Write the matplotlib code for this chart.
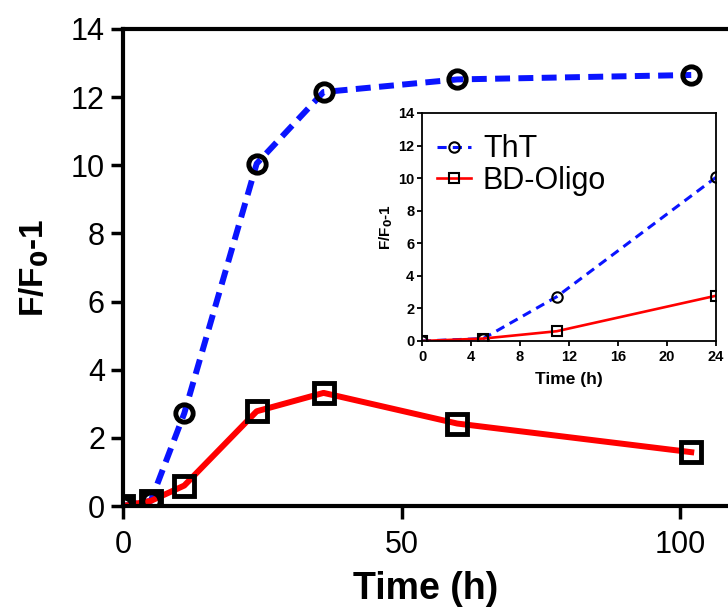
import numpy as np
import matplotlib.pyplot as plt

plt.rcParams['font.family'] = ['Liberation Sans', 'DejaVu Sans']

# Main data (time in hours)
time_h = [0, 5, 11, 24, 36, 60, 102]
tht = [0.0, 0.15, 2.72, 10.05, 12.15, 12.52, 12.65]
bd_oligo = [0.0, 0.15, 0.6, 2.78, 3.32, 2.42, 1.58]

# Inset data (first 24 h)
time_in = [0, 5, 11, 24]
tht_in = [0.0, 0.15, 2.72, 10.05]
bd_in = [0.0, 0.15, 0.6, 2.78]

fig = plt.figure(figsize=(7.28, 6.12), dpi=100)
ax = fig.add_axes([123 / 728, 106 / 612, 1.0 - 123 / 728, 477 / 612])

ax.plot(time_h, tht, color='#0a14ff', lw=4.3, ls=(0, (2.5, 1.4)), zorder=2)
ax.plot(time_h, bd_oligo, color='#ff0000', lw=4.3, zorder=2)
ax.plot(time_h, tht, ls='none', marker='o', ms=12.5, mfc='none', mec='black', mew=3.5, zorder=3)
ax.plot(time_h, bd_oligo, ls='none', marker='s', ms=14, mfc='none', mec='black', mew=3.5, zorder=3)

ax.set_xlim(0, 108.6)
ax.set_ylim(0, 14)
ax.set_xticks([0, 50, 100])
ax.set_yticks(np.arange(0, 15, 2))
ax.spines['right'].set_visible(False)
for s in ['left', 'bottom', 'top']:
    ax.spines[s].set_linewidth(3)
ax.tick_params(axis='both', width=2.5, length=9, labelsize=22, direction='out', pad=4)
ax.tick_params(axis='x', pad=8)
ax.set_xlabel('Time (h)', fontsize=27, fontweight='bold', labelpad=8)
ax.set_ylabel('F/F$_\\mathbf{0}$-1', fontsize=24, fontweight='bold', labelpad=14)
for sp in ax.spines.values():
    sp.set_clip_on(False)

# Inset
ins = fig.add_axes([422 / 728, (612 - 341) / 612, 294 / 728, 228 / 612])
ins.plot(time_in, tht_in, color='#0a14ff', lw=2.2, ls=(0, (3, 2)), zorder=2, marker='o', ms=7.5,
         mfc='none', mec='black', mew=1.5, label='ThT')
ins.plot(time_in, bd_in, color='#ff0000', lw=1.9, zorder=2, marker='s', ms=7.5,
         mfc='none', mec='black', mew=1.5, label='BD-Oligo')
ins.set_xlim(0, 24)
ins.set_ylim(0, 14)
ins.set_xticks(np.arange(0, 25, 4))
ins.set_yticks(np.arange(0, 15, 2))
for sp in ins.spines.values():
    sp.set_linewidth(1.3)
    sp.set_clip_on(False)
ins.tick_params(axis='both', width=1.3, length=3.5, labelsize=10.5, pad=2)
ins.tick_params(axis='x', pad=3)
for lab in ins.get_xticklabels() + ins.get_yticklabels():
    lab.set_fontweight('bold')
ins.set_xlabel('Time (h)', fontsize=12.5, fontweight='bold', labelpad=6)
ins.set_ylabel('F/F$_\\mathbf{0}$-1', fontsize=11, fontweight='bold', labelpad=2)
ins.legend(loc='upper left', fontsize=22, frameon=False, handlelength=1.1, handletextpad=0.4,
           borderaxespad=0.0, labelspacing=0.05, bbox_to_anchor=(0.01, 0.96))

fig.savefig('out.png', dpi=100)
